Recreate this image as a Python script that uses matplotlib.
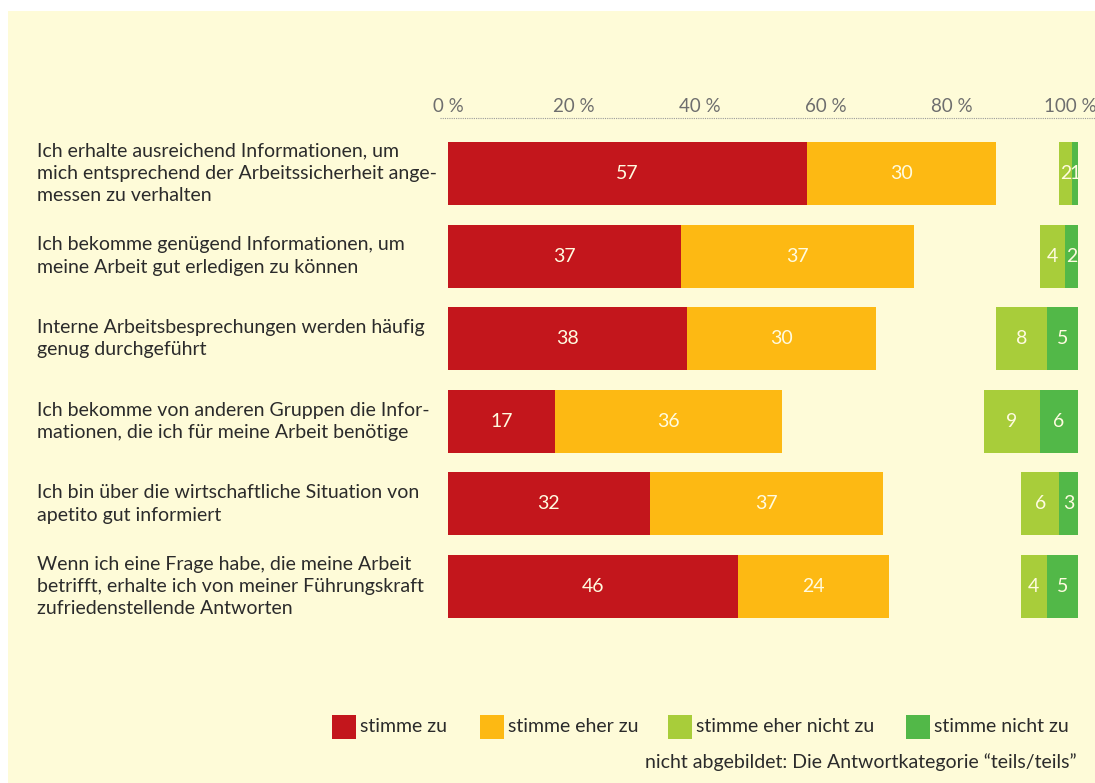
import matplotlib.pyplot as plt
from matplotlib.patches import Rectangle
from matplotlib.lines import Line2D
import matplotlib.transforms as mtransforms

plt.rcParams["font.family"] = ["Lato", "DejaVu Sans"]

W, H = 1095, 783

statements = [
    "Ich erhalte ausreichend Informationen, um\nmich entsprechend der Arbeitssicherheit ange-\nmessen zu verhalten",
    "Ich bekomme genügend Informationen, um\nmeine Arbeit gut erledigen zu können",
    "Interne Arbeitsbesprechungen werden häufig\ngenug durchgeführt",
    "Ich bekomme von anderen Gruppen die Infor-\nmationen, die ich für meine Arbeit benötige",
    "Ich bin über die wirtschaftliche Situation von\napetito gut informiert",
    "Wenn ich eine Frage habe, die meine Arbeit\nbetrifft, erhalte ich von meiner Führungskraft\nzufriedenstellende Antworten",
]
stimme_zu = [57, 37, 38, 17, 32, 46]
eher_zu = [30, 37, 30, 36, 37, 24]
eher_nicht_zu = [2, 4, 8, 9, 6, 4]
nicht_zu = [1, 2, 5, 6, 3, 5]

series_names = ["stimme zu", "stimme eher zu", "stimme eher nicht zu", "stimme nicht zu"]
colors = ["#C3161C", "#FDB913", "#A8CD3A", "#52B848"]
tick_vals = [0, 20, 40, 60, 80, 100]
note = "nicht abgebildet: Die Antwortkategorie \u201cteils/teils\u201d"

bg = "#FEFBD8"
txt = "#2b2b2b"
lbl = "#FFFBE0"

fig = plt.figure(figsize=(W / 100, H / 100), dpi=100, facecolor="white")
fig.add_artist(Rectangle((8 / W, 0), 1, 1 - 11 / H, transform=fig.transFigure,
                         facecolor=bg, edgecolor="none", zorder=0))

# axes: 0..100 % -> x 448..1078 px ; rows centred 173.5 .. 586.5 px
row_gap = (586.5 - 173.5) / 5
top_px = 173.5 - row_gap / 2
bot_px = 586.5 + row_gap / 2
ax = fig.add_axes([448 / W, 1 - bot_px / H, 630 / W, (bot_px - top_px) / H])
ax.set_xlim(0, 100)
ax.set_ylim(len(statements) - 0.5, -0.5)
ax.axis("off")

ys = list(range(len(statements)))
bh = 0.765

# left block: zu + eher zu
ax.barh(ys, stimme_zu, height=bh, color=colors[0])
ax.barh(ys, eher_zu, left=stimme_zu, height=bh, color=colors[1])
# right block aligned to 100 %
left_nz = [100 - a - b for a, b in zip(eher_nicht_zu, nicht_zu)]
ax.barh(ys, eher_nicht_zu, left=left_nz, height=bh, color=colors[2])
left_n = [100 - b for b in nicht_zu]
ax.barh(ys, nicht_zu, left=left_n, height=bh, color=colors[3])

fs = 14
for i in ys:
    ax.text(stimme_zu[i] / 2, i, str(stimme_zu[i]), ha="center", va="center", color=lbl, fontsize=fs)
    ax.text(stimme_zu[i] + eher_zu[i] / 2, i, str(eher_zu[i]), ha="center", va="center", color=lbl, fontsize=fs)
    ax.text(left_nz[i] + eher_nicht_zu[i] / 2, i, str(eher_nicht_zu[i]), ha="center", va="center", color=lbl, fontsize=fs)
    ax.text(left_n[i] + nicht_zu[i] / 2, i, str(nicht_zu[i]), ha="center", va="center", color=lbl, fontsize=fs)

# statement labels
tr = mtransforms.blended_transform_factory(fig.transFigure, ax.transData)
for i, s in enumerate(statements):
    ax.text(37 / W, i, s, transform=tr, ha="left", va="center", color=txt,
            fontsize=fs, linespacing=1.38)

# top scale
trx = mtransforms.blended_transform_factory(ax.transData, fig.transFigure)
for v in tick_vals:
    ax.text(min(v, 98.8), 1 - 106 / H, f"{v} %", transform=trx, ha="center", va="center",
            color="#6e6e6e", fontsize=13.5, clip_on=False)
fig.add_artist(Line2D([440 / W, 1], [1 - 118 / H, 1 - 118 / H], transform=fig.transFigure,
                      color="#9a9a9a", lw=0.8, ls=(0, (1, 1))))

# legend
leg_x = [332, 480, 668, 906]
for x, c, name in zip(leg_x, colors, series_names):
    fig.add_artist(Rectangle((x / W, 1 - 739 / H), 24 / W, 24 / H, transform=fig.transFigure,
                             facecolor=c, edgecolor="none"))
    fig.text((x + 28) / W, 1 - 727 / H, name, ha="left", va="center", color=txt, fontsize=fs)

fig.text(1077 / W, 1 - 762 / H, note, ha="right", va="center", color=txt, fontsize=fs)

fig.savefig("out.png", dpi=100, facecolor=fig.get_facecolor())
